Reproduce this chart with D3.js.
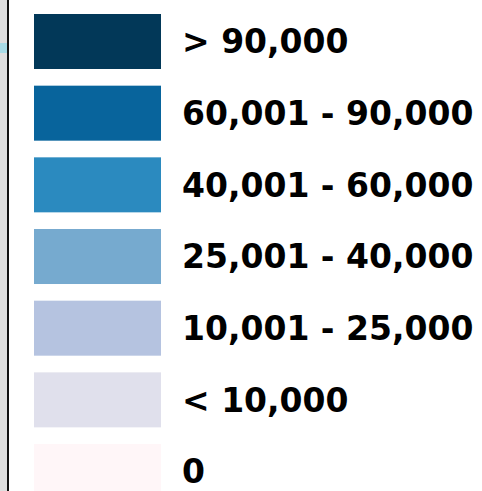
<!DOCTYPE html>
<html>
<head>
<meta charset="utf-8">
<script src="https://cdn.jsdelivr.net/npm/d3@7"></script>
<style>
  body { margin: 0; background: #fff; }
  svg { display: block; }
  .legend-label { font-family: "DejaVu Sans", sans-serif; font-weight: bold; fill: #000; }
</style>
</head>
<body>
<svg id="chart"></svg>
<script>
// legend bins, top to bottom
const labels = ["> 90,000", "60,001 - 90,000", "40,001 - 60,000", "25,001 - 40,000", "10,001 - 25,000", "< 10,000", "0"];
const colors = ["#023858", "#08649c", "#2b8abf", "#76aacf", "#b5c3e0", "#e0e0ec", "#fff6f8"];

const width = 482, height = 491;
const swatchH = 55, step = 71.67;

const svg = d3.select("#chart")
    .attr("width", width)
    .attr("height", height);

// clipped edge of the map panel on the left
svg.append("rect").attr("x", 0).attr("y", 0).attr("width", 7).attr("height", height).attr("fill", "#dedede");
svg.append("rect").attr("x", 0).attr("y", 43).attr("width", 7).attr("height", 10).attr("fill", "#a8dbe6");
svg.append("rect").attr("x", 7).attr("y", 0).attr("width", 2).attr("height", height).attr("fill", "#111");

const yScale = d3.scaleBand()
    .domain(labels)
    .range([14, 14 + step * (labels.length - 1) + swatchH])
    .paddingInner((step - swatchH) / step)
    .paddingOuter(0);

const color = d3.scaleOrdinal()
    .domain(labels)
    .range(colors);

const rows = svg.append("g").selectAll(".row")
    .data(labels)
    .join("g")
    .attr("class", "row")
    .attr("transform", d => `translate(0,${yScale(d)})`);

rows.append("rect")
    .attr("x", 34)
    .attr("width", 127)
    .attr("height", yScale.bandwidth())
    .attr("fill", d => color(d));

rows.append("text")
    .attr("class", "legend-label")
    .attr("x", 182)
    .attr("y", yScale.bandwidth() / 2)
    .attr("dy", "0.36em")
    .style("font-size", "33px")
    .text(d => d);
</script>
</body>
</html>
